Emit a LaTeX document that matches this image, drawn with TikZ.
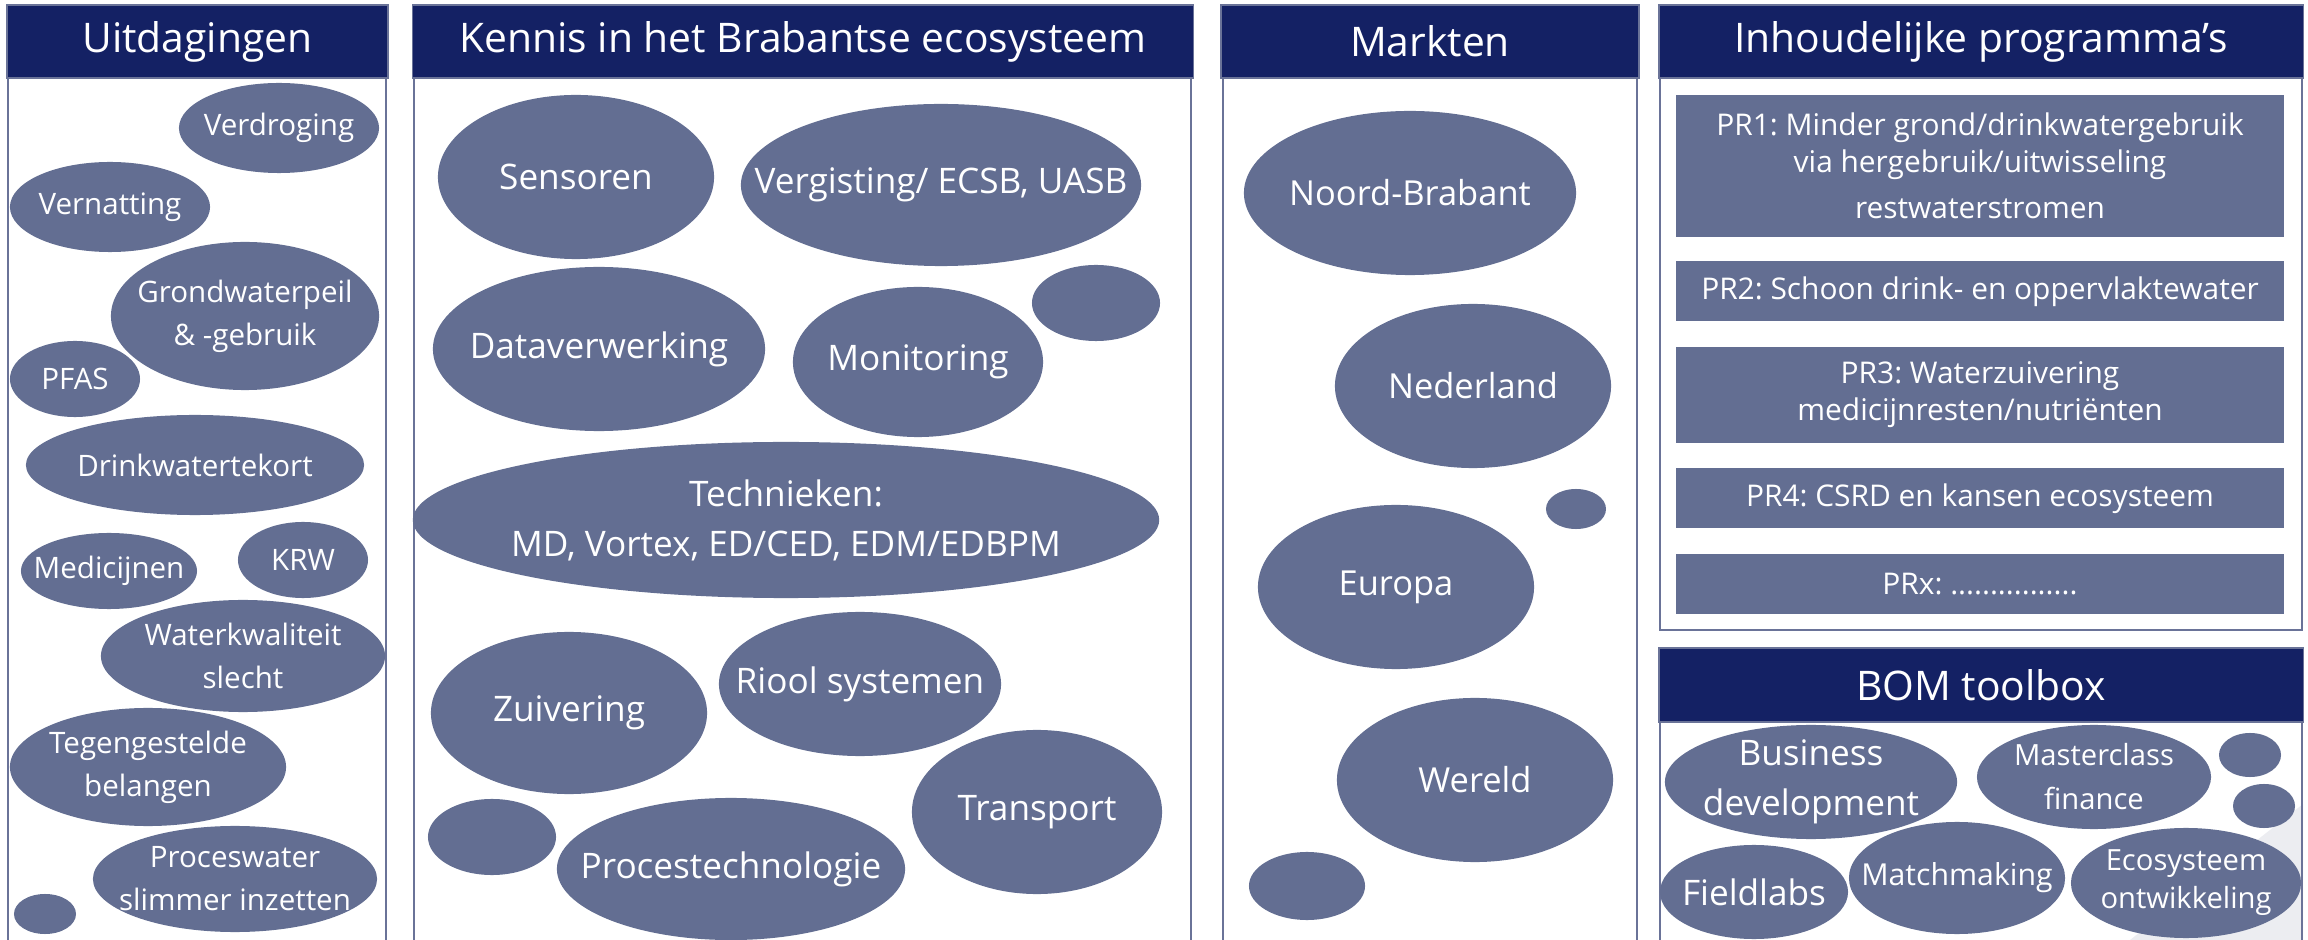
\documentclass[tikz,border=0pt]{standalone}
\usepackage{fontspec}
\setmainfont{Open Sans}
\usetikzlibrary{shapes.geometric,positioning}
\definecolor{navy}{RGB}{20,33,100}
\definecolor{bubblefill}{RGB}{99,110,146}
\definecolor{panelline}{RGB}{106,115,152}
\definecolor{curl}{RGB}{236,237,241}
\frenchspacing

\begin{document}
\begin{tikzpicture}[x=0.01cm, y=-0.01cm,
    header/.style={draw=panelline, fill=navy, text=white, minimum height=0.73cm, inner sep=0pt, font=\fontsize{11.6}{14}\selectfont},
    panel/.style={draw=panelline, line width=0.6pt},
    bubble/.style 2 args={ellipse, fill=bubblefill, minimum width=#1*0.1mm, minimum height=#2*0.1mm, inner sep=0pt},
    prbox/.style={fill=bubblefill, text=white, minimum width=6.07cm, inner sep=0pt, align=center, font=\fontsize{8.5}{10.5}\selectfont},
    every label/.style={text=white, align=center, inner sep=0pt}]
        \useasboundingbox (0,0) rectangle (2308,940);

        % Panels
        \fill[curl] (2303,804) -- (2303,940) -- (2130,940) -- cycle;
        \draw[panel] (8,78) rectangle (386,950);
        \draw[panel] (414,78) rectangle (1191,950);
        \draw[panel] (1223,78) rectangle (1637,950);
        \draw[panel] (1660,78) rectangle (2302,630);
        \draw[panel] (1660,722) rectangle (2302,950);

        % Headers
        \node (h-uitdagingen) [header, minimum width=3.81cm] at (197.5,41.5) {Uitdagingen};
        \node (h-kennis) [header, minimum width=7.8cm] at (803,41.5) {Kennis in het Brabantse ecosysteem};
        \node (h-markten) [header, minimum width=4.18cm] at (1430,41.5) {Markten};
        \node (h-programmas) [header, minimum width=6.44cm] at (1981,41.5) {Inhoudelijke programma’s};
        \node (h-toolbox) [header, minimum width=6.44cm, minimum height=0.74cm] at (1981,685) {BOM toolbox};

        % Uitdagingen
        \begin{scope}[every label/.append style={font=\fontsize{8.4}{12.2}\selectfont}]
        \node (verdroging) [bubble={200}{90}, label=center:Verdroging] at (279,128) {};
        \node (vernatting) [bubble={200}{90}, label=center:Vernatting] at (110,207) {};
        \node (grondwater) [bubble={268}{148}, label={center:Grondwaterpeil\\\& -gebruik}] at (245,316) {};
        \node (pfas) [bubble={130}{76}, label=center:PFAS] at (75,379) {};
        \node (drinkwater) [bubble={338}{100}, label=center:Drinkwatertekort] at (195,465) {};
        \node (medicijnen) [bubble={176}{76}, label=center:Medicijnen] at (109,571) {};
        \node (krw) [bubble={130}{76}, label=center:KRW] at (303,560) {};
        \node (waterkwaliteit) [bubble={284}{112}, label={center:Waterkwaliteit\\slecht}] at (243,656) {};
        \node (tegengesteld) [bubble={276}{118}, label={center:Tegengestelde\\belangen}] at (148,767) {};
        \node (proceswater) [bubble={284}{106}, label={center:Proceswater\\slimmer inzetten}] at (235,879) {};
        \node (u-leeg) [bubble={62}{40}] at (45,914) {};
        \end{scope}

        % Kennis
        \begin{scope}[every label/.append style={font=\fontsize{10}{14.2}\selectfont}]
        \node (sensoren) [bubble={276}{164}, label=center:Sensoren] at (576,177) {};
        \node (vergisting) [bubble={400}{162}, label={center:Vergisting/ ECSB, UASB}] at (941,185) {};
        \node (k-leeg1) [bubble={128}{76}] at (1096,303) {};
        \node (dataverwerking) [bubble={332}{164}, label=center:Dataverwerking] at (599,349) {};
        \node (monitoring) [bubble={250}{150}, label=center:Monitoring] at (918,362) {};
        \node (technieken) [bubble={746}{156}, label={center:Technieken:\\MD, Vortex, ED/CED, EDM/EDBPM}] at (786,520) {};
        \node (zuivering) [bubble={276}{162}, label=center:Zuivering] at (569,713) {};
        \node (riool) [bubble={282}{144}, label=center:Riool systemen] at (860,684) {};
        \node (transport) [bubble={250}{164}, label=center:Transport] at (1037,812) {};
        \node (k-leeg2) [bubble={128}{76}] at (492,837) {};
        \node (procestech) [bubble={348}{142}, label=center:Procestechnologie] at (731,869) {};
        \end{scope}

        % Markten
        \begin{scope}[every label/.append style={font=\fontsize{9.8}{12}\selectfont}]
        \node (noordbrabant) [bubble={332}{164}, label=center:Noord-Brabant] at (1410,193) {};
        \node (nederland) [bubble={276}{164}, label=center:Nederland] at (1473,386) {};
        \node (m-leeg1) [bubble={60}{40}] at (1576,509) {};
        \node (europa) [bubble={276}{164}, label=center:Europa] at (1396,587) {};
        \node (wereld) [bubble={276}{164}, label=center:Wereld] at (1475,780) {};
        \node (m-leeg2) [bubble={116}{68}] at (1307,886) {};
        \end{scope}

        % Programma's
        \node (pr1) [prbox, minimum height=1.42cm] at (1980,166) {PR1: Minder grond/drinkwatergebruik\\via hergebruik/uitwisseling\\[2.5pt]restwaterstromen};
        \node (pr2) [prbox, minimum height=0.6cm, below=0.23cm of pr1] {PR2: Schoon drink- en oppervlaktewater};
        \node (pr3) [prbox, minimum height=0.96cm, below=0.24cm of pr2] {PR3: Waterzuivering\\medicijnresten/nutriënten};
        \node (pr4) [prbox, minimum height=0.6cm, below=0.24cm of pr3] {PR4: CSRD en kansen ecosysteem};
        \node (prx) [prbox, minimum height=0.6cm, below=0.24cm of pr4] {PRx: ................};

        % Toolbox
        \node (business) [bubble={292}{114}, label={[font=\fontsize{10}{14.2}\selectfont]center:Business\\development}] at (1811,782) {};
        \node (masterclass) [bubble={234}{104}, label={[font=\fontsize{8.3}{12.5}\selectfont]center:Masterclass\\finance}] at (2094,777) {};
        \node (b-leeg1) [bubble={62}{44}] at (2250,755) {};
        \node (b-leeg2) [bubble={62}{44}] at (2264,806) {};
        \node (fieldlabs) [bubble={188}{94}, label={[font=\fontsize{10}{12}\selectfont]center:Fieldlabs}] at (1754,892) {};
        \node (matchmaking) [bubble={216}{112}, label={[font=\fontsize{8.6}{12}\selectfont]center:Matchmaking}] at (1957,878) {};
        \node (ecosysteem) [bubble={230}{110}, label={[font=\fontsize{8.3}{10.8}\selectfont]center:Ecosysteem\\ontwikkeling}] at (2186,883) {};
    \end{tikzpicture}
\end{document}
